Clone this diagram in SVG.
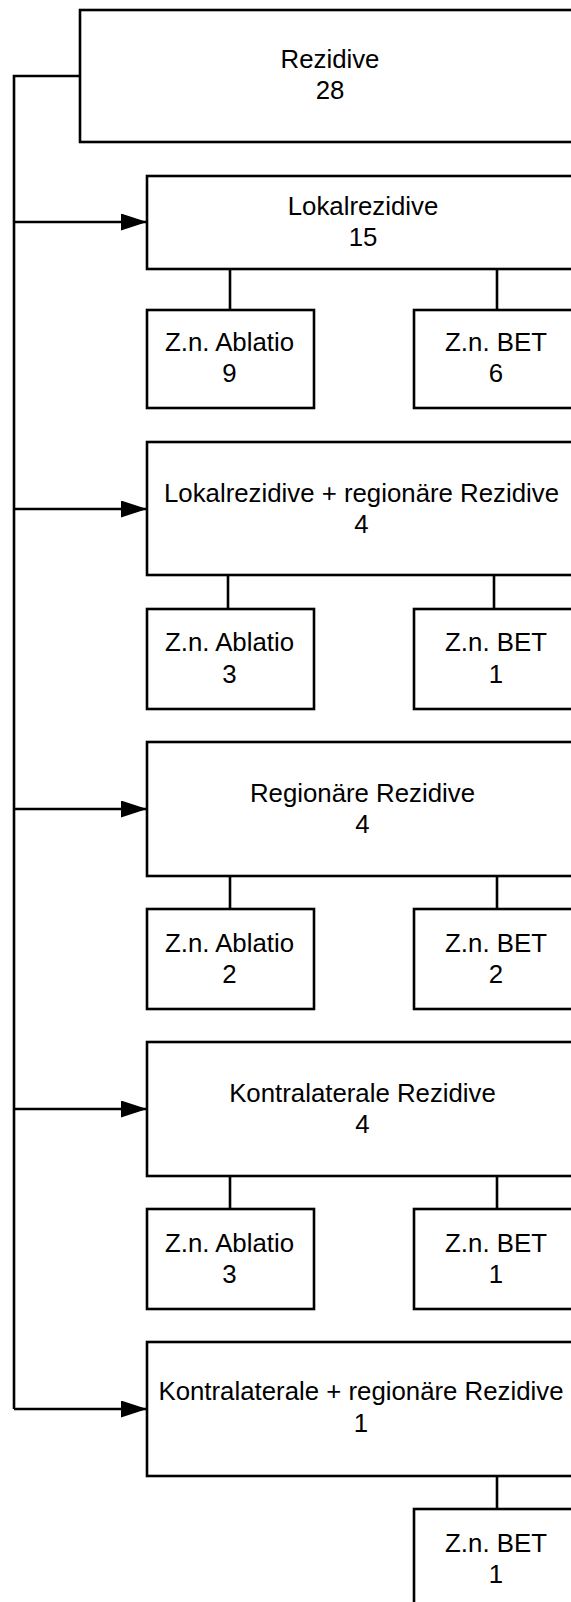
<svg xmlns="http://www.w3.org/2000/svg" width="571" height="1602" viewBox="0 0 571 1602">
<style>
.box{fill:#fff;stroke:#000;stroke-width:2.6}
.ln{fill:none;stroke:#000;stroke-width:2.6}
text{font-family:"Liberation Sans",Arial,sans-serif;font-size:25.8px;fill:#000;text-anchor:middle}
</style>
<defs>
<marker id="ah" markerUnits="userSpaceOnUse" markerWidth="28" markerHeight="18" refX="26" refY="8.5" orient="auto">
<path d="M0,0 L26,8.5 L0,17 z" fill="#000"/>
</marker>
</defs>
<rect width="571" height="1602" fill="#fff"/>
<g id="connectors">
<polyline class="ln" points="80,76 14,76 14,1409"/>
<line class="ln" x1="14" y1="222" x2="147" y2="222" marker-end="url(#ah)"/>
<line class="ln" x1="14" y1="509" x2="147" y2="509" marker-end="url(#ah)"/>
<line class="ln" x1="14" y1="809" x2="147" y2="809" marker-end="url(#ah)"/>
<line class="ln" x1="14" y1="1109" x2="147" y2="1109" marker-end="url(#ah)"/>
<line class="ln" x1="14" y1="1409" x2="147" y2="1409" marker-end="url(#ah)"/>
<line class="ln" x1="230" y1="269" x2="230" y2="310"/>
<line class="ln" x1="497" y1="269" x2="497" y2="310"/>
<line class="ln" x1="228" y1="575" x2="228" y2="609"/>
<line class="ln" x1="494" y1="575" x2="494" y2="609"/>
<line class="ln" x1="230" y1="876" x2="230" y2="909"/>
<line class="ln" x1="497" y1="876" x2="497" y2="909"/>
<line class="ln" x1="230" y1="1176" x2="230" y2="1209"/>
<line class="ln" x1="497" y1="1176" x2="497" y2="1209"/>
<line class="ln" x1="497" y1="1476" x2="497" y2="1509"/>
</g>
<g id="rezidive">
<rect class="box" x="80" y="10" width="499" height="132"/>
<text x="330" y="68">Rezidive</text>
<text x="330" y="99">28</text>
</g>
<g id="lokal">
<rect class="box" x="147" y="176" width="432" height="93"/>
<text x="363" y="215">Lokalrezidive</text>
<text x="363" y="246">15</text>
</g>
<g id="lokal-ablatio">
<rect class="box" x="147" y="310" width="167" height="98"/>
<text x="229.5" y="351">Z.n. Ablatio</text>
<text x="229.5" y="382">9</text>
</g>
<g id="lokal-bet">
<rect class="box" x="414" y="310" width="165" height="98"/>
<text x="496" y="351">Z.n. BET</text>
<text x="496" y="382">6</text>
</g>
<g id="lokal-regional">
<rect class="box" x="147" y="442" width="432" height="133"/>
<text x="361.5" y="501.5">Lokalrezidive + regionäre Rezidive</text>
<text x="361.5" y="532.5">4</text>
</g>
<g id="lokal-regional-ablatio">
<rect class="box" x="147" y="609" width="167" height="100"/>
<text x="229.5" y="651">Z.n. Ablatio</text>
<text x="229.5" y="682.5">3</text>
</g>
<g id="lokal-regional-bet">
<rect class="box" x="414" y="609" width="165" height="100"/>
<text x="496" y="651">Z.n. BET</text>
<text x="496" y="682.5">1</text>
</g>
<g id="regional">
<rect class="box" x="147" y="742" width="432" height="134"/>
<text x="362.5" y="801.5">Regionäre Rezidive</text>
<text x="362.5" y="832.5">4</text>
</g>
<g id="regional-ablatio">
<rect class="box" x="147" y="909" width="167" height="100"/>
<text x="229.5" y="951.5">Z.n. Ablatio</text>
<text x="229.5" y="983">2</text>
</g>
<g id="regional-bet">
<rect class="box" x="414" y="909" width="165" height="100"/>
<text x="496" y="951.5">Z.n. BET</text>
<text x="496" y="983">2</text>
</g>
<g id="kontralateral">
<rect class="box" x="147" y="1042" width="432" height="134"/>
<text x="362.5" y="1101.5">Kontralaterale Rezidive</text>
<text x="362.5" y="1132.5">4</text>
</g>
<g id="kontralateral-ablatio">
<rect class="box" x="147" y="1209" width="167" height="100"/>
<text x="229.5" y="1251.5">Z.n. Ablatio</text>
<text x="229.5" y="1283">3</text>
</g>
<g id="kontralateral-bet">
<rect class="box" x="414" y="1209" width="165" height="100"/>
<text x="496" y="1251.5">Z.n. BET</text>
<text x="496" y="1283">1</text>
</g>
<g id="kontralateral-regional">
<rect class="box" x="147" y="1342" width="432" height="134"/>
<text x="361" y="1400">Kontralaterale + regionäre Rezidive</text>
<text x="361" y="1431.5">1</text>
</g>
<g id="kontralateral-regional-bet">
<rect class="box" x="414" y="1509" width="165" height="100"/>
<text x="496" y="1551.5">Z.n. BET</text>
<text x="496" y="1582.5">1</text>
</g>
</svg>
